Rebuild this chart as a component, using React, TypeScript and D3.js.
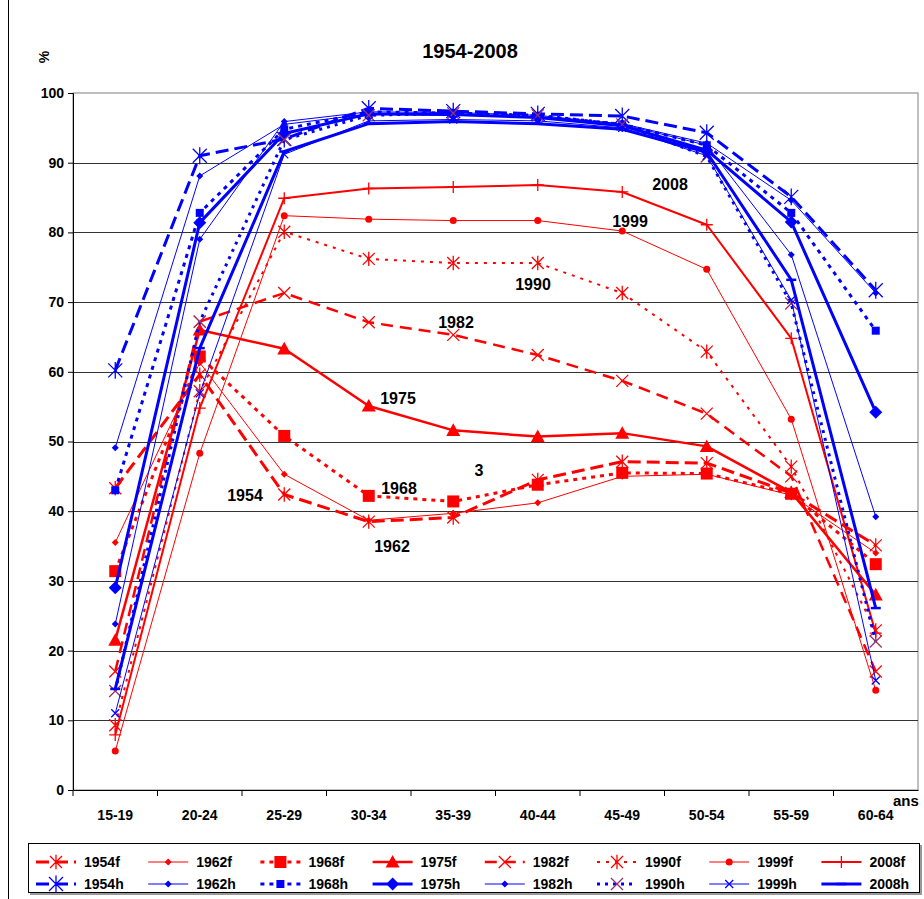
import React, { useEffect, useRef } from 'react';
import * as d3 from 'd3';

const ageGroups = ['15-19', '20-24', '25-29', '30-34', '35-39', '40-44', '45-49', '50-54', '55-59', '60-64'];
const yTicks = [0, 10, 20, 30, 40, 50, 60, 70, 80, 90, 100];

// taux d'activité des femmes
const f1954 = [43.3, 59.6, 42.4, 38.5, 39.1, 44.5, 47.1, 46.9, 42.6, 35.1];
const f1962 = [35.5, 61.3, 45.3, 38.7, 39.7, 41.2, 45.0, 45.3, 42.3, 34.0];
const f1968 = [31.4, 62.2, 50.8, 42.2, 41.4, 43.8, 45.5, 45.4, 42.5, 32.4];
const f1975 = [21.5, 66.0, 63.3, 55.1, 51.6, 50.7, 51.2, 49.3, 42.7, 28.0];
const f1982 = [17.0, 67.2, 71.3, 67.1, 65.3, 62.4, 58.7, 54.0, 45.0, 17.0];
const f1990 = [9.3, 57.2, 80.1, 76.2, 75.6, 75.6, 71.3, 62.9, 46.4, 22.9];
const f1999 = [5.6, 48.3, 82.4, 81.9, 81.7, 81.7, 80.2, 74.7, 53.2, 14.3];
const f2008 = [7.9, 54.8, 84.9, 86.3, 86.5, 86.8, 85.8, 81.1, 64.8, 22.5];

// taux d'activité des hommes
const h1954 = [60.2, 91.0, 93.4, 97.8, 97.4, 97.0, 96.7, 94.3, 85.1, 71.7];
const h1962 = [49.1, 88.1, 95.5, 97.0, 96.8, 96.6, 95.6, 92.8, 84.6, 71.3];
const h1968 = [43.0, 82.8, 94.8, 97.3, 97.1, 96.7, 95.5, 92.5, 82.8, 65.9];
const h1975 = [29.0, 81.4, 94.2, 97.0, 96.9, 96.5, 95.3, 91.8, 81.5, 54.2];
const h1982 = [23.8, 79.0, 95.9, 97.3, 97.2, 96.8, 95.5, 92.5, 76.8, 39.2];
const h1990 = [14.2, 67.2, 93.3, 96.8, 97.1, 96.8, 95.5, 90.9, 69.8, 21.3];
const h1999 = [11.0, 56.9, 91.2, 96.0, 96.2, 96.0, 95.0, 91.0, 70.3, 15.7];
const h2008 = [14.5, 63.4, 91.6, 95.6, 95.9, 95.6, 94.8, 91.5, 73.2, 26.1];

const seriesNames = ['1954f', '1962f', '1968f', '1975f', '1982f', '1990f', '1999f', '2008f',
  '1954h', '1962h', '1968h', '1975h', '1982h', '1990h', '1999h', '2008h'];
const seriesValues = [f1954, f1962, f1968, f1975, f1982, f1990, f1999, f2008,
  h1954, h1962, h1968, h1975, h1982, h1990, h1999, h2008];

// annotations in the plot
const labelTexts = ['2008', '1999', '1990', '1982', '1975', '3', '1968', '1954', '1962'];
const labelPos = [[670, 190], [630, 227], [533, 290], [456, 328], [398, 404], [479, 476], [399, 494], [245, 501], [392, 552]];

const RED = '#FF0000';
const BLUE = '#0000FF';
const FONT = '"Liberation Sans", Arial, sans-serif';

// line + marker styling per series (same order as seriesNames)
const styles = [
  { color: RED, width: 3, dash: '13,6', marker: 'asterisk', size: 6, mColor: RED },
  { color: RED, width: 1, dash: null, marker: 'diamond', size: 3.5, mColor: RED },
  { color: RED, width: 3, dash: '4,5', marker: 'square', size: 6, mColor: RED },
  { color: RED, width: 2.5, dash: null, marker: 'triangle', size: 7, mColor: RED },
  { color: RED, width: 2.5, dash: '12,7', marker: 'x', size: 6, mColor: RED },
  { color: RED, width: 2, dash: '3,6', marker: 'asterisk', size: 6, mColor: RED },
  { color: RED, width: 1, dash: null, marker: 'circle', size: 3.5, mColor: RED },
  { color: RED, width: 2, dash: null, marker: 'plus', size: 6, mColor: RED },
  { color: BLUE, width: 3, dash: '13,6', marker: 'asterisk', size: 7, mColor: BLUE },
  { color: BLUE, width: 1, dash: null, marker: 'diamond', size: 3.5, mColor: BLUE },
  { color: BLUE, width: 3, dash: '4,5', marker: 'square', size: 4, mColor: BLUE },
  { color: BLUE, width: 3, dash: null, marker: 'diamond', size: 6.5, mColor: BLUE },
  { color: BLUE, width: 1, dash: null, marker: 'diamond', size: 3.5, mColor: BLUE },
  { color: BLUE, width: 3, dash: '3,5', marker: 'x', size: 6, mColor: '#993366' },
  { color: BLUE, width: 1, dash: null, marker: 'x', size: 4, mColor: BLUE },
  { color: BLUE, width: 3, dash: null, marker: 'dash', size: 5, mColor: BLUE },
];

function drawMarker(g, type, cx, cy, s, color) {
  if (type === 'asterisk') {
    g.append('path')
      .attr('d', `M${cx - s},${cy - s}L${cx + s},${cy + s}M${cx - s},${cy + s}L${cx + s},${cy - s}M${cx},${cy - s * 1.2}L${cx},${cy + s * 1.2}`)
      .attr('stroke', color).attr('stroke-width', 1.3).attr('fill', 'none');
  } else if (type === 'x') {
    g.append('path')
      .attr('d', `M${cx - s},${cy - s}L${cx + s},${cy + s}M${cx - s},${cy + s}L${cx + s},${cy - s}`)
      .attr('stroke', color).attr('stroke-width', 1.3).attr('fill', 'none');
  } else if (type === 'plus') {
    g.append('path')
      .attr('d', `M${cx - s},${cy}L${cx + s},${cy}M${cx},${cy - s}L${cx},${cy + s}`)
      .attr('stroke', color).attr('stroke-width', 1.3).attr('fill', 'none');
  } else if (type === 'dash') {
    g.append('path')
      .attr('d', `M${cx - s},${cy}L${cx + s},${cy}`)
      .attr('stroke', color).attr('stroke-width', 2.5).attr('fill', 'none');
  } else if (type === 'diamond') {
    g.append('path')
      .attr('d', `M${cx},${cy - s}L${cx + s},${cy}L${cx},${cy + s}L${cx - s},${cy}Z`)
      .attr('fill', color);
  } else if (type === 'square') {
    g.append('rect')
      .attr('x', cx - s).attr('y', cy - s).attr('width', 2 * s).attr('height', 2 * s)
      .attr('fill', color);
  } else if (type === 'triangle') {
    g.append('path')
      .attr('d', `M${cx},${cy - s}L${cx + s},${cy + s * 0.8}L${cx - s},${cy + s * 0.8}Z`)
      .attr('fill', color);
  } else if (type === 'circle') {
    g.append('circle').attr('cx', cx).attr('cy', cy).attr('r', s).attr('fill', color);
  }
}

function ActivityChart() {
  const svgRef = useRef();

  useEffect(() => {
    if (!svgRef.current) return;
    const width = 924;
    const height = 899;
    const plot = { left: 73, right: 918, top: 93, bottom: 790 };

    const svg = d3.select(svgRef.current);
    svg.selectAll('*').remove();
    svg.attr('width', width).attr('height', height)
      .style('font-family', FONT);

    svg.append('rect').attr('width', width).attr('height', height).attr('fill', '#fff');
    svg.append('line').attr('x1', 8.5).attr('x2', 8.5).attr('y1', 0).attr('y2', height)
      .attr('stroke', '#000').attr('stroke-width', 1);

    const x = d3.scaleBand().domain(ageGroups).range([plot.left, plot.right]).padding(0);
    const y = d3.scaleLinear().domain([0, 100]).range([plot.bottom, plot.top]);
    const cx = (d) => x(d) + x.bandwidth() / 2;

    // plot frame
    svg.append('rect')
      .attr('x', plot.left).attr('y', plot.top)
      .attr('width', plot.right - plot.left).attr('height', plot.bottom - plot.top)
      .attr('fill', 'none').attr('stroke', '#808080').attr('stroke-width', 1);

    // gridlines
    svg.append('g').selectAll('line').data(yTicks.filter((t) => t > 0 && t < 100)).join('line')
      .attr('x1', plot.left).attr('x2', plot.right)
      .attr('y1', (d) => Math.round(y(d)) + 0.5).attr('y2', (d) => Math.round(y(d)) + 0.5)
      .attr('stroke', '#333').attr('stroke-width', 1);

    // y axis
    const yAxis = svg.append('g')
      .attr('transform', `translate(${plot.left},0)`)
      .call(d3.axisLeft(y).tickValues(yTicks).tickSize(5).tickPadding(4));
    yAxis.select('.domain').attr('stroke', '#000');
    yAxis.selectAll('.tick line').attr('stroke', '#000');
    yAxis.selectAll('text').attr('font-size', 14).attr('font-weight', 'bold')
      .attr('font-family', FONT).attr('fill', '#000');

    // x axis
    const xAxis = svg.append('g')
      .attr('transform', `translate(0,${plot.bottom})`)
      .call(d3.axisBottom(x).tickSize(0).tickPadding(20));
    xAxis.select('.domain').attr('stroke', '#000');
    xAxis.selectAll('text').attr('font-size', 14).attr('font-weight', 'bold')
      .attr('font-family', FONT).attr('fill', '#000');
    svg.append('g').selectAll('line').data(ageGroups).join('line')
      .attr('x1', (d) => x(d)).attr('x2', (d) => x(d))
      .attr('y1', plot.bottom).attr('y2', plot.bottom + 6)
      .attr('stroke', '#000');

    // series
    const lineGen = d3.line().x((d, i) => cx(ageGroups[i])).y((d) => y(d));
    const seriesG = svg.append('g');
    seriesValues.forEach((vals, si) => {
      const st = styles[si];
      seriesG.append('path')
        .attr('d', lineGen(vals))
        .attr('fill', 'none')
        .attr('stroke', st.color)
        .attr('stroke-width', st.width)
        .attr('stroke-dasharray', st.dash)
        .attr('stroke-linejoin', 'round');
      vals.forEach((v, i) => drawMarker(seriesG, st.marker, cx(ageGroups[i]), y(v), st.size, st.mColor));
    });

    // annotations
    svg.append('g').selectAll('text').data(labelTexts).join('text')
      .attr('x', (d, i) => labelPos[i][0]).attr('y', (d, i) => labelPos[i][1])
      .attr('text-anchor', 'middle')
      .attr('font-size', 16).attr('font-weight', 'bold')
      .text((d) => d);

    // title and axis titles
    svg.append('text').attr('x', 470).attr('y', 58).attr('text-anchor', 'middle')
      .attr('font-size', 20).attr('font-weight', 'bold').text('1954-2008');
    svg.append('text').attr('transform', 'translate(49,57) rotate(-90)')
      .attr('text-anchor', 'middle').attr('font-size', 14).attr('font-weight', 'bold').text('%');
    svg.append('text').attr('x', 893).attr('y', 806)
      .attr('font-size', 15).attr('font-weight', 'bold').text('ans');

    // legend
    const legend = svg.append('g');
    legend.append('rect').attr('x', 30).attr('y', 845).attr('width', 892).attr('height', 50)
      .attr('fill', '#999');
    legend.append('rect').attr('x', 28.5).attr('y', 843.5).attr('width', 891).attr('height', 49)
      .attr('fill', '#fff').attr('stroke', '#000');
    seriesNames.forEach((name, si) => {
      const st = styles[si];
      const col = si % 8;
      const row = Math.floor(si / 8);
      const lx = 36 + col * 112.2;
      const ly = 862 + row * 22;
      legend.append('line')
        .attr('x1', lx).attr('x2', lx + 40).attr('y1', ly).attr('y2', ly)
        .attr('stroke', st.color).attr('stroke-width', st.width)
        .attr('stroke-dasharray', st.dash);
      drawMarker(legend, st.marker, lx + 20, ly, st.size, st.mColor);
      legend.append('text').attr('x', lx + 48).attr('y', ly + 5)
        .attr('font-size', 14).attr('font-weight', 'bold').text(name);
    });
  }, []);

  return <svg ref={svgRef} style={{ position: 'absolute', left: 0, top: 0, display: 'block' }}></svg>;
}

export default function App() {
  return <ActivityChart />;
}
